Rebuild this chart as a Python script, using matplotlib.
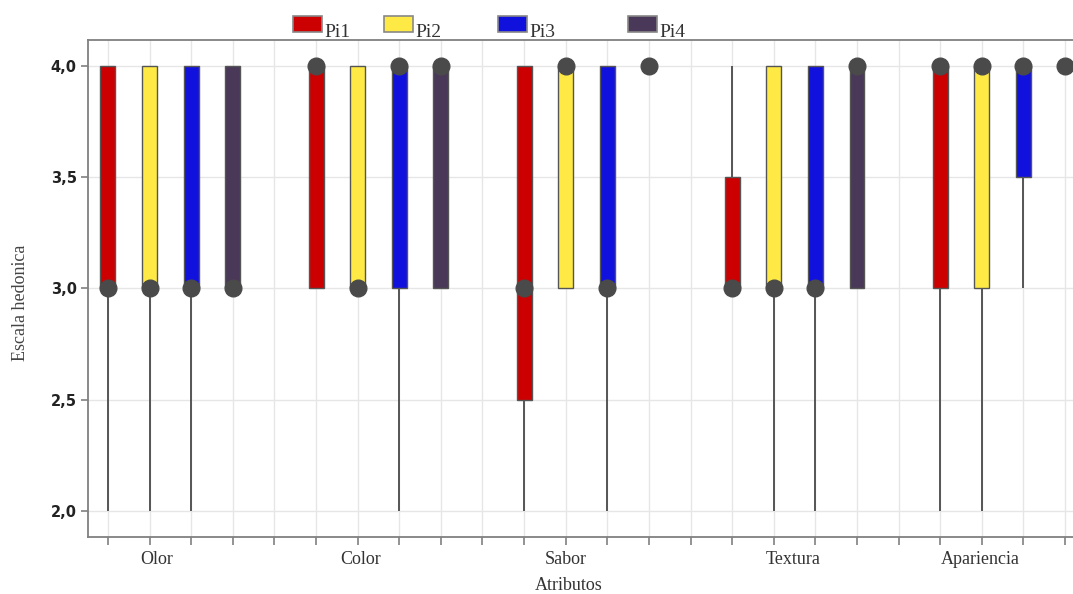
import matplotlib.pyplot as plt
from matplotlib.patches import Rectangle
from matplotlib.ticker import FuncFormatter

atributos = ['Olor', 'Color', 'Sabor', 'Textura', 'Apariencia']
series = ['Pi1', 'Pi2', 'Pi3', 'Pi4']
colores = ['#cc0000', '#ffe944', '#1111dd', '#4a3858']

# rows = Pi1..Pi4, columns = Olor..Apariencia
bigote_inf = [[2, 3, 2, 3, 2],
              [2, 3, 3, 2, 2],
              [2, 2, 2, 2, 3],
              [3, 3, 4, 3, 4]]
q1 = [[3, 3, 2.5, 3, 3],
      [3, 3, 3, 3, 3],
      [3, 3, 3, 3, 3.5],
      [3, 3, 4, 3, 4]]
mediana = [[3, 4, 3, 3, 4],
           [3, 3, 4, 3, 4],
           [3, 4, 3, 3, 4],
           [3, 4, 4, 4, 4]]
q3 = [[4, 4, 4, 3.5, 4],
      [4, 4, 4, 4, 4],
      [4, 4, 4, 4, 4],
      [4, 4, 4, 4, 4]]
bigote_sup = [[4, 4, 4, 4, 4],
              [4, 4, 4, 4, 4],
              [4, 4, 4, 4, 4],
              [4, 4, 4, 4, 4]]

# where the category names sit (in slot units) - they are a bit off-centre in the original
pos_etiquetas = [1.18, 6.07, 11.0, 16.46, 20.96]

fig = plt.figure(figsize=(10.73, 5.94), dpi=100)
ax = fig.add_axes([0.082, 0.096, 0.93, 0.837])

gris = '#555555'
for i, s in enumerate(series):
    xs = [g * 5 + i for g in range(len(atributos))]
    alto = [b - a for a, b in zip(q1[i], q3[i])]
    ax.bar(xs, alto, bottom=q1[i], width=0.36, color=colores[i],
           edgecolor=gris, linewidth=1, zorder=3)
    ax.vlines(xs, bigote_inf[i], q1[i], color=gris, linewidth=1.4, zorder=2)
    ax.vlines(xs, q3[i], bigote_sup[i], color=gris, linewidth=1.4, zorder=2)
    ax.plot(xs, mediana[i], 'o', color='#4a4a4a', markersize=12,
            linestyle='none', zorder=4)

ax.set_xlim(-0.48, 23.5)
ax.set_ylim(1.883, 4.117)
ax.set_xticks(range(24))
ax.set_xticklabels([])
ax.set_yticks([2.0, 2.5, 3.0, 3.5, 4.0])
ax.yaxis.set_major_formatter(FuncFormatter(lambda v, p: f'{v:.1f}'.replace('.', ',')))
ax.grid(True, color='#e6e6e6', linewidth=1)
ax.set_axisbelow(True)

for lado in ['left', 'bottom', 'top']:
    ax.spines[lado].set_color('#808080')
    ax.spines[lado].set_linewidth(1.3)
ax.spines['right'].set_visible(False)
ax.tick_params(axis='x', length=6, width=1.2, color='#808080')
ax.tick_params(axis='y', length=5, width=1.2, color='#808080',
               labelsize=10.5, labelcolor='#222222', pad=3)
for t in ax.get_yticklabels():
    t.set_fontfamily('DejaVu Sans')
    t.set_fontweight('semibold')

serif = 'Liberation Serif'
for nombre, xp in zip(atributos, pos_etiquetas):
    ax.text(xp, -0.046, nombre, transform=ax.get_xaxis_transform(),
            ha='center', va='center', fontsize=13, family=serif, color='#333333')
ax.text(11.07, -0.097, 'Atributos', transform=ax.get_xaxis_transform(),
        ha='center', va='center', fontsize=13, family=serif, color='#333333')
fig.text(0.019, 0.49, 'Escala hedonica', rotation=90, ha='center', va='center',
         fontsize=13, family=serif, color='#444444')

# legend drawn by hand, the entries are unevenly spaced in the original
leg_x = [293, 384, 498, 628]
for px, s, c in zip(leg_x, series, colores):
    fig.patches.append(Rectangle((px / 1073, 1 - 32 / 594), 29 / 1073, 16 / 594,
                                 transform=fig.transFigure, facecolor=c,
                                 edgecolor='#888888', linewidth=1.2))
    fig.text((px + 31) / 1073, 1 - 37 / 594, s, ha='left', va='baseline',
             fontsize=14, family=serif, color='#333333')

fig.savefig('out.png', dpi=100)
